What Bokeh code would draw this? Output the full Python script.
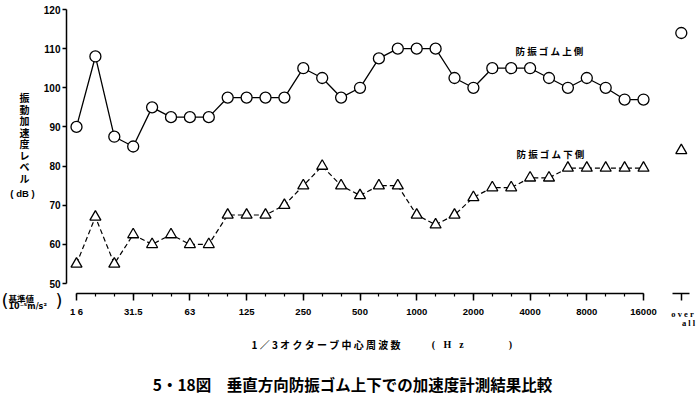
from bokeh.plotting import figure
from bokeh.models import Range1d, LinearAxis, FixedTicker, Label
from bokeh.embed import file_html
from bokeh.resources import INLINE

# ---------------- data ----------------
bands = ["16", "20", "25", "31.5", "40", "50", "63", "80", "100", "125", "160",
         "200", "250", "315", "400", "500", "630", "800", "1000", "1250", "1600",
         "2000", "2500", "3150", "4000", "5000", "6300", "8000", "10000", "12500", "16000"]
upper = [90, 108, 87.5, 85, 95, 92.5, 92.5, 92.5, 97.5, 97.5, 97.5,
         97.5, 105, 102.5, 97.5, 100, 107.5, 110, 110, 110, 102.5,
         100, 105, 105, 105, 102.5, 100, 102.5, 100, 97, 97]
lower = [55, 67, 55, 62.5, 60, 62.5, 60, 60, 67.5, 67.5, 67.5,
         70, 75, 80, 75, 72.5, 75, 75, 67.5, 65, 67.5,
         72, 74.5, 74.5, 77, 77, 79.5, 79.5, 79.5, 79.5, 79.5]
overall_upper = [114]
overall_lower = [84]
tick_bands = ["16", "31.5", "63", "125", "250", "500", "1000", "2000", "4000", "8000", "16000"]
tick_labels = ["1 6", "31.5", "63", "125", "250", "500", "1000", "2000", "4000", "8000", "16000"]
y_ticks = [50, 60, 70, 80, 90, 100, 110, 120]
upper_name = "防 振 ゴ ム 上 側"
lower_name = "防 振 ゴ ム 下 側"
y_title_chars = ["振", "動", "加", "速", "度", "レ", "ベ", "ル"]
y_title_unit = "( dB )"
x_title = "1 ／ 3 オ ク タ ー ブ 中 心 周 波 数"
x_unit_parts = ["(", "H", "z", ")"]
caption = "5・18図　垂直方向防振ゴム上下での加速度計測結果比較"

# ---------------- layout (page pixels = canvas pixels; frame = whole canvas) ----------------
W, H = 700, 396
X0, DX = 76, 18.9          # pixel of first band, pixels per 1/3 octave
Y120, Y50 = 9, 283         # pixels of 120 dB and 50 dB
scale = (Y50 - Y120) / 70.0


def dx(px):
    return (px - X0) / DX


def dy(py):
    return 120 - (py - Y120) / scale


p = figure(width=W, height=H, output_backend="svg", toolbar_location=None,
           x_range=Range1d(dx(0), dx(W)), y_range=Range1d(dy(H), dy(0)),
           x_axis_type=None, y_axis_type=None,
           min_border=0, min_border_left=0, min_border_right=0, min_border_top=0,
           min_border_bottom=0, outline_line_color=None,
           background_fill_color="white", border_fill_color="white")

num_font = "Liberation Sans"
jp_font = "Noto Sans CJK JP"
y_axis_at = dx(66)
x_axis_at = dy(293)

yax = LinearAxis(bounds=(50, 120), fixed_location=y_axis_at,
                 ticker=FixedTicker(ticks=y_ticks, minor_ticks=[]),
                 major_tick_in=0, major_tick_out=4, minor_tick_in=0, minor_tick_out=0,
                 axis_line_width=1.5, major_tick_line_width=1.5,
                 axis_line_color="black", major_tick_line_color="black",
                 major_label_standoff=2, major_label_text_font=num_font,
                 major_label_text_font_style="bold", major_label_text_font_size="10px",
                 major_label_text_color="black")
p.add_layout(yax, "left")

idx = list(range(len(bands)))
major_idx = [bands.index(b) for b in tick_bands]
overrides = {i: t for i, t in zip(major_idx, tick_labels)}
xax = LinearAxis(bounds=(0, len(bands) - 1), fixed_location=x_axis_at,
                 ticker=FixedTicker(ticks=major_idx, minor_ticks=idx),
                 major_label_overrides=overrides,
                 major_tick_in=0, major_tick_out=7, minor_tick_in=0, minor_tick_out=3,
                 axis_line_width=1.5, major_tick_line_width=1.5, minor_tick_line_width=1.2,
                 axis_line_color="black", major_tick_line_color="black",
                 minor_tick_line_color="black",
                 major_label_standoff=5, major_label_text_font=num_font,
                 major_label_text_font_style="bold", major_label_text_font_size="9.5px",
                 major_label_text_color="black")
p.add_layout(xax, "below")

x_over = len(bands) + 1
oax = LinearAxis(bounds=(x_over - 0.45, x_over + 0.45), fixed_location=x_axis_at,
                 ticker=FixedTicker(ticks=[], minor_ticks=[x_over]),
                 major_tick_in=0, major_tick_out=0, minor_tick_in=0, minor_tick_out=7,
                 axis_line_width=1.5, minor_tick_line_width=1.5,
                 axis_line_color="black", minor_tick_line_color="black")
p.add_layout(oax, "below")

# ---------------- series ----------------
p.line(idx, upper, line_color="black", line_width=1.3)
p.scatter(idx, upper, marker="circle", size=11, fill_color="white",
          line_color="black", line_width=1.3)
p.line(idx, lower, line_color="black", line_width=1.2, line_dash="5 3")
p.scatter(idx, lower, marker="triangle", size=11, fill_color="white",
          line_color="black", line_width=1.3)
p.scatter([x_over], overall_upper, marker="circle", size=11, fill_color="white",
          line_color="black", line_width=1.3)
p.scatter([x_over], overall_lower, marker="triangle", size=11, fill_color="white",
          line_color="black", line_width=1.3)


# ---------------- texts ----------------
def lab(text, px, py, size, align="left", baseline="middle", font=jp_font,
        style="bold"):
    p.add_layout(Label(x=dx(px), y=dy(py), text=text, text_align=align,
                       text_baseline=baseline, text_font=font, text_font_style=style,
                       text_font_size=size, text_color="black"))


lab(upper_name, 515, 50, "9.5px")
lab(lower_name, 516, 153, "9.5px")
for k, ch in enumerate(y_title_chars):
    lab(ch, 24, 97 + k * 11.5, "10px", align="center")
lab(y_title_unit, 22, 193, "9.5px", align="center", font=num_font)
lab("(", 1, 300, "18px", font="DejaVu Sans", style="normal")
lab("基準値", 8, 297, "8.5px")
lab("10⁻⁵m/s²", 8, 306, "8px", font="DejaVu Sans")
lab(")", 55, 300, "18px", font="DejaVu Sans", style="normal")
lab("o v e r", 682, 313, "8.5px", align="center", font="Liberation Serif")
lab("a l l", 688, 322, "8.5px", align="center", font="Liberation Serif")
lab(x_title, 251, 344, "10px")
for px, part in zip([433, 447, 461, 510], x_unit_parts):
    lab(part, px, 344, "10px", align="center", font="Liberation Serif")
lab(caption, 352, 383, "15.5px", align="center")

open("out.html", "w", encoding="utf-8").write(file_html(p, INLINE, title="5・18図"))
